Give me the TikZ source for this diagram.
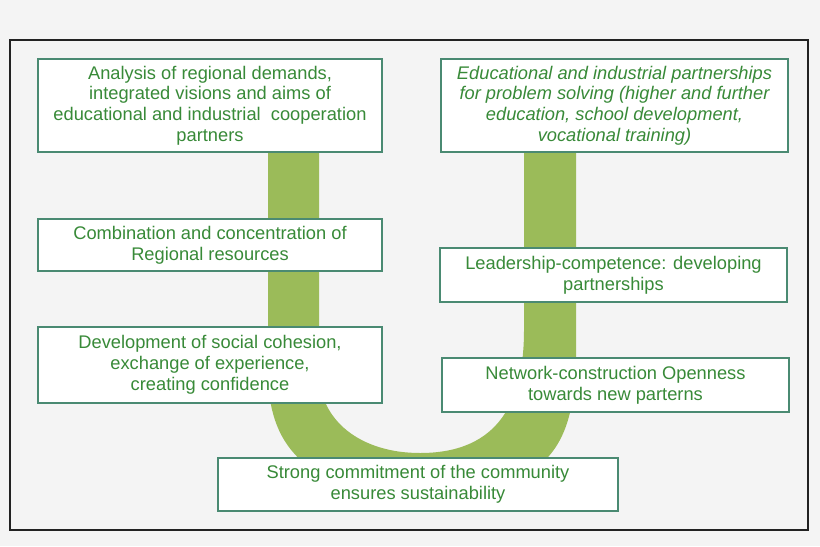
\documentclass[tikz,border=0pt]{standalone}
\usepackage{fontspec}
\setmainfont{Liberation Sans}
\usepackage{tikz}
\usetikzlibrary{positioning}
\definecolor{Paper}{HTML}{F4F4F4}
\definecolor{Frame}{HTML}{222222}
\definecolor{BoxLine}{HTML}{4A8A72}
\definecolor{Leaf}{HTML}{388A38}
\definecolor{Band}{HTML}{9BBB59}
\tikzset{
  stage/.style={draw=BoxLine,line width=1.1pt,fill=white,text=Leaf,align=center,inner sep=2pt,
    font=\fontsize{13}{14.8}\selectfont},
  stagewide/.style={stage,minimum width=8.6cm},
  stageright/.style={stage,minimum width=8.675cm}
}
\begin{document}
\begin{tikzpicture}[x=.025cm,y=-.025cm]
\fill[Paper] (0,0) rectangle (820,546);
\useasboundingbox (0,0) rectangle (820,546);
\draw[Frame,line width=1.1pt] (10,40) rectangle (808,530);
\fill[Band] (268,152) -- (268,372) .. controls (268,440) and (300,494) .. (420,494)
  .. controls (560,494) and (578,440) .. (576,330) -- (576,152) -- (524,152) -- (524,330)
  .. controls (524,400) and (500,453) .. (420,453) .. controls (360,453) and (319,420) .. (319,372)
  -- (319,152) -- cycle;
\node[stagewide,minimum height=2.325cm] (analysis) at (210,105.5)
  {Analysis of regional demands,\\integrated visions and aims of\\educational and industrial\ \ cooperation\\partners};
\node[stagewide,minimum height=1.3cm] (combine) at (210,245)
  {Combination and concentration of\\Regional resources};
\node[stagewide,minimum height=1.9cm] (cohesion) at (210,365)
  {Development of social cohesion,\\exchange of experience,\\creating confidence};
\node[stageright,minimum height=2.325cm,font=\fontsize{13}{14.8}\selectfont\itshape] (partner) at (614.5,105.5)
  {Educational and industrial partnerships\\for problem solving (higher and further\\education, school development,\\vocational training)};
\node[stageright,minimum height=1.35cm] (leader) at (613.5,275)
  {Leadership-competence: developing\\partnerships};
\node[stageright,minimum height=1.35cm] (network) at (615.5,385)
  {Network-construction Openness\\towards new parterns};
\node[stage,minimum width=10cm,minimum height=1.325cm] (commit) at (418,484.5)
  {Strong commitment of the community\\ensures sustainability};
\end{tikzpicture}
\end{document}
